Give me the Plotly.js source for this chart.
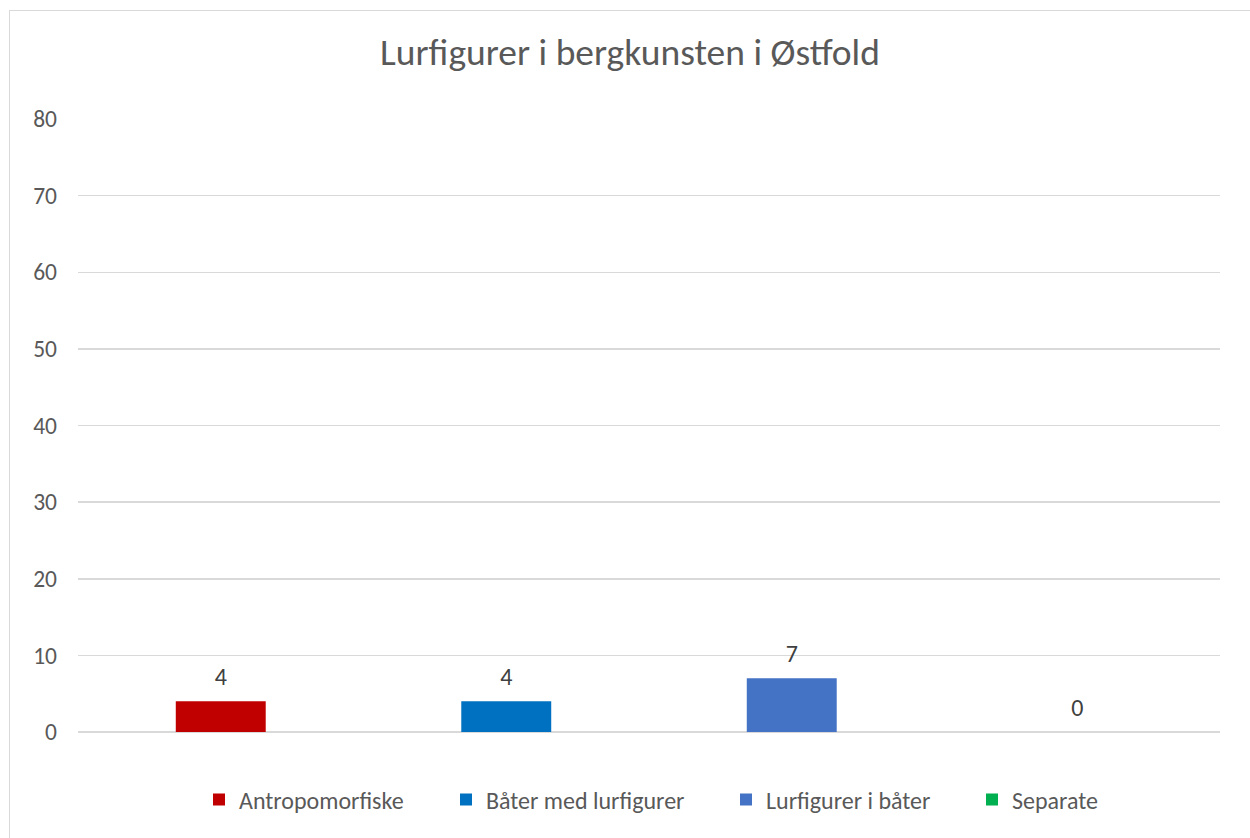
<!DOCTYPE html>
<html>
<head>
<meta charset="utf-8">
<script src="https://cdn.plot.ly/plotly-3.0.1.min.js"></script>
<style>
html,body{margin:0;padding:0;background:#fff;overflow:hidden;width:1250px;height:838px;}
#frame{position:absolute;left:9px;top:10px;width:1241px;height:828px;border-left:1px solid #d9d9d9;border-top:1px solid #d9d9d9;overflow:hidden;background:#fff;}
#chart{width:1240px;height:827px;}
</style>
</head>
<body>
<div id="frame"><div id="chart"></div></div>
<script>
const seriesNames = ["Antropomorfiske", "Båter med lurfigurer", "Lurfigurer i båter", "Separate"];
const seriesValues = [4, 4, 7, 0];
const seriesColors = ["#C00000", "#0070C0", "#4472C4", "#00B050"];
const yTicks = [0, 10, 20, 30, 40, 50, 60, 70, 80];
const chartTitle = "Lurfigurer i bergkunsten i Østfold";

const FONT = "Carlito, Lato, 'Open Sans', sans-serif";
// legend entry widths (px) to reproduce the original spacing
const LEGEND_ENTRY_W = [202, 235, 201, 100];

const traces = seriesNames.map((name, i) => ({
  type: "bar",
  name: name,
  x: [name],
  y: [seriesValues[i]],
  marker: {color: seriesColors[i]},
  legendwidth: LEGEND_ENTRY_W[i],
  hoverinfo: "name+y"
}));

// data labels, lifted above the bars like the original
traces.push({
  type: "scatter",
  mode: "markers+text",
  x: seriesNames,
  y: seriesValues,
  text: seriesValues.map(String),
  textposition: "top center",
  marker: {size: 15, opacity: 0, color: "#ffffff"},
  textfont: {family: FONT, size: 24, color: "#404040"},
  showlegend: false,
  cliponaxis: false,
  hoverinfo: "skip"
});

const layout = {
  width: 1240,
  height: 827,
  margin: {l: 68, r: 30, t: 108, b: 106},
  paper_bgcolor: "#ffffff",
  plot_bgcolor: "#ffffff",
  barmode: "overlay",
  bargap: 0.685,
  font: {family: FONT, size: 24, color: "#595959"},
  title: {
    text: chartTitle,
    font: {family: FONT, size: 37.5, color: "#595959"},
    xref: "container", x: 0.5, xanchor: "center",
    yref: "container", y: 0.950, yanchor: "middle"
  },
  xaxis: {
    type: "category",
    categoryorder: "array",
    categoryarray: seriesNames,
    showticklabels: false,
    showgrid: false,
    zeroline: false,
    showline: false,
    ticks: "",
    fixedrange: true
  },
  yaxis: {
    range: [0, 80],
    tickvals: yTicks,
    ticktext: yTicks.map(String),
    showgrid: true,
    gridcolor: "#d9d9d9",
    gridwidth: 1.5,
    zeroline: true,
    zerolinecolor: "#d9d9d9",
    zerolinewidth: 1.5,
    showline: false,
    ticks: "",
    ticklabelstandoff: 20,
    tickfont: {family: FONT, size: 23.5, color: "#595959"},
    fixedrange: true
  },
  showlegend: true,
  legend: {
    orientation: "h",
    xref: "container", x: 189 / 1240, xanchor: "left",
    yref: "container", y: 1 - 789/827, yanchor: "middle",
    font: {family: FONT, size: 24, color: "#595959"},
    itemwidth: 30,
    traceorder: "normal",
    bgcolor: "rgba(0,0,0,0)"
  }
};

Plotly.newPlot("chart", traces, layout, {displayModeBar: false, staticPlot: true});
</script>
</body>
</html>
